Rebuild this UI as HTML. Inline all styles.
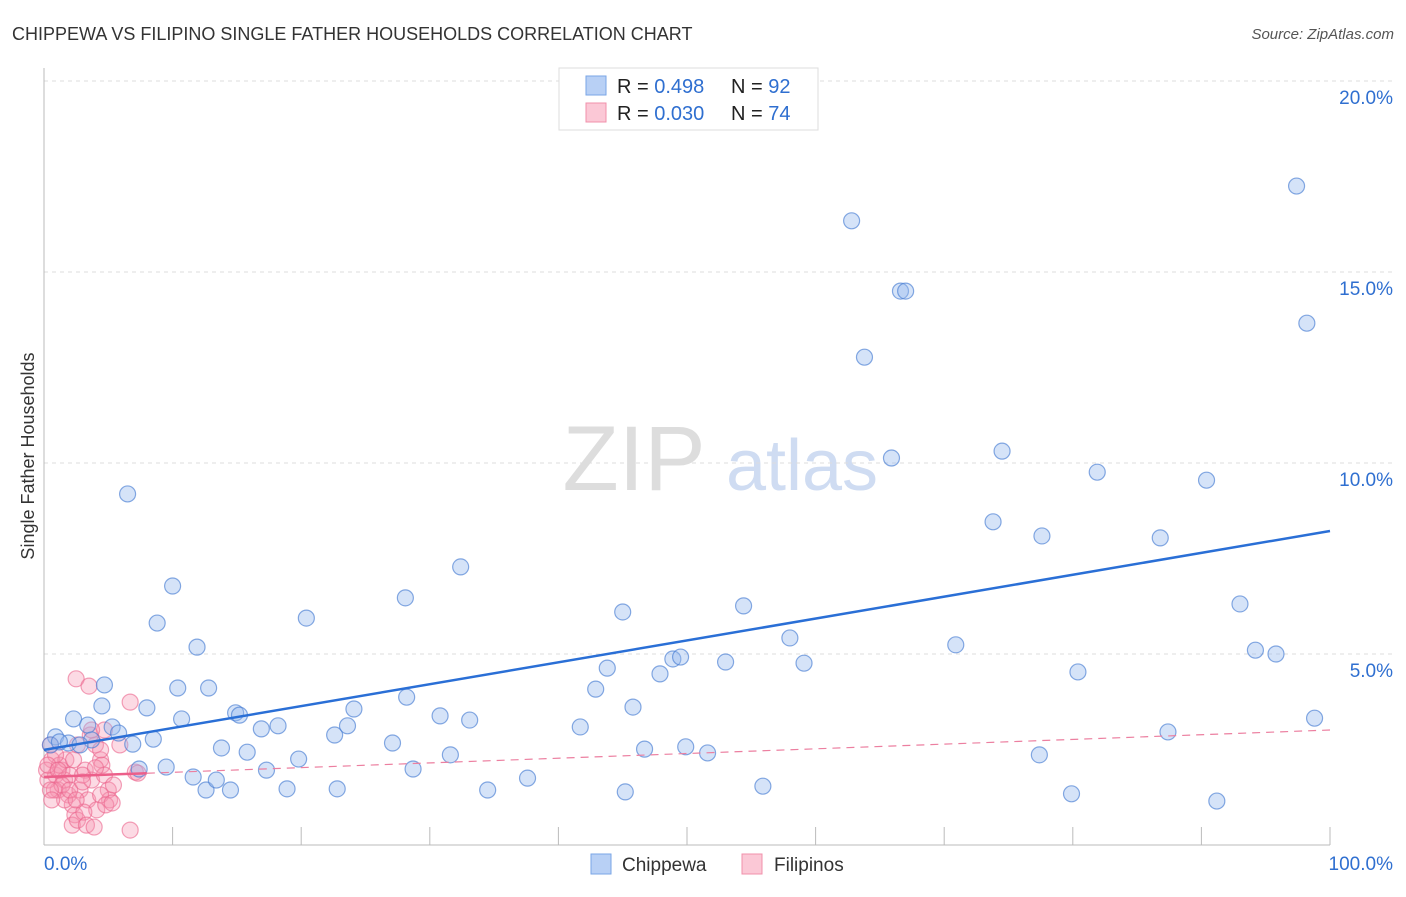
<!DOCTYPE html>
<html><head><meta charset="utf-8"><style>
body{margin:0;background:#fff;font-family:"Liberation Sans",sans-serif;}
svg text{font-family:"Liberation Sans",sans-serif;}
</style></head><body>
<svg id="c" width="1406" height="892" xmlns="http://www.w3.org/2000/svg">
<text x="12" y="40" font-size="18" fill="#333">CHIPPEWA VS FILIPINO SINGLE FATHER HOUSEHOLDS CORRELATION CHART</text>
<text x="1394" y="39" font-size="15" fill="#555" text-anchor="end" font-style="italic">Source: ZipAtlas.com</text>
<text x="634" y="490" font-size="92" fill="#ddd" font-family="Liberation Serif" text-anchor="middle">ZIP</text>
<text x="802" y="490" font-size="72" fill="#cfdcf2" text-anchor="middle">atlas</text>
<text transform="translate(34,456) rotate(-90)" font-size="18" fill="#333" text-anchor="middle">Single Father Households</text>
<g id="grid"></g><g id="pts"></g><g id="lines"></g>
<g>
<rect x="559" y="68" width="259" height="62" fill="#fff" stroke="#ddd"/>
<rect x="586" y="76" width="20" height="19" fill="#b8d0f5" stroke="#7aa6e6"/>
<rect x="586" y="103" width="20" height="19" fill="#fbc8d6" stroke="#f090ab"/>
<text x="617" y="93" font-size="20" fill="#222">R = <tspan fill="#2f6fd0">0.498</tspan></text>
<text x="731" y="93" font-size="20" fill="#222">N = <tspan fill="#2f6fd0">92</tspan></text>
<text x="617" y="120" font-size="20" fill="#222">R = <tspan fill="#2f6fd0">0.030</tspan></text>
<text x="731" y="120" font-size="20" fill="#222">N = <tspan fill="#2f6fd0">74</tspan></text>
</g>
<g>
<rect x="591" y="854" width="20" height="20" fill="#b8d0f5" stroke="#7aa6e6"/>
<text x="622" y="871" font-size="19" fill="#333">Chippewa</text>
<rect x="742" y="854" width="20" height="20" fill="#fbc8d6" stroke="#f090ab"/>
<text x="774" y="871" font-size="19" fill="#333">Filipinos</text>
</g>
</svg>
<script>
const blueX=[6.5,10.0,8.8,11.9,10.4,12.8,10.7,8.0,4.7,4.5,2.3,3.4,0.9,1.9,3.7,5.3,5.8,6.9,8.5,7.4,9.5,11.6,12.6,13.4,14.5,13.8,15.8,14.9,15.2,16.9,18.2,17.3,19.8,18.9,20.4,22.8,22.6,23.6,24.1,27.1,28.2,28.1,28.7,30.8,31.6,32.4,33.1,34.5,37.6,41.7,42.9,43.8,45.0,45.2,45.8,46.7,47.9,48.9,49.5,49.9,51.6,53.0,54.4,55.9,58.0,59.1,62.8,63.8,65.9,66.6,67.0,70.9,73.8,74.5,77.6,77.4,79.9,80.4,81.9,86.8,87.4,90.4,91.2,93.0,94.2,95.8,97.4,98.2,98.8,0.5,1.2,2.8];
const blueY=[9.19,6.78,5.81,5.18,4.11,4.11,3.30,3.59,4.19,3.64,3.30,3.14,2.83,2.67,2.75,3.09,2.93,2.64,2.77,1.99,2.04,1.78,1.44,1.70,1.44,2.54,2.43,3.46,3.40,3.04,3.12,1.96,2.25,1.47,5.94,1.47,2.88,3.12,3.56,2.67,3.87,6.47,1.99,3.38,2.36,7.28,3.27,1.44,1.75,3.09,4.08,4.63,6.10,1.39,3.61,2.51,4.48,4.87,4.92,2.57,2.41,4.79,6.26,1.54,5.42,4.76,16.34,12.77,10.13,14.50,14.50,5.24,8.46,10.31,8.09,2.36,1.34,4.53,9.76,8.04,2.96,9.55,1.15,6.31,5.10,5.00,17.25,13.66,3.32,2.62,2.70,2.62];
const pinkX=[2.5,3.5,6.7,0.5,0.6,0.9,1.1,1.4,1.6,1.9,2.2,2.4,2.8,3.2,3.4,3.7,4.0,4.1,4.4,4.5,4.7,5.0,5.1,5.4,5.9,7.1,6.7,2.2,2.6,3.1,3.3,3.9,1.2,1.7,2.0,0.3,0.8,0.9,1.4,1.6,2.3,2.6,3.0,3.6,4.0,4.4,4.8,5.3,7.3,0.2,0.3,0.5,0.6,1.1,2.0,2.5,3.0,4.4,4.7,3.7];
const pinkY=[4.35,4.16,3.74,2.62,2.23,1.83,1.44,1.96,1.70,1.31,1.05,0.79,1.44,1.96,1.18,1.70,2.62,0.92,2.23,2.09,1.83,1.44,1.18,1.57,2.62,1.91,0.39,0.52,0.65,0.86,0.52,0.47,2.09,2.23,1.83,1.70,1.44,2.36,1.57,1.18,2.23,2.62,1.83,2.88,2.02,1.31,1.05,1.10,1.88,1.96,2.09,1.44,1.18,1.96,1.44,1.18,1.65,2.49,3.01,3.01];
const yTicks=[5,10,15,20];
const yTickLabels=["5.0%","10.0%","15.0%","20.0%"];
const xTicks=[0,10,20,30,40,50,60,70,80,90,100];
const blueTrend=[2.49,8.22];
const pinkTrend=[1.78,3.01];
const NS='http://www.w3.org/2000/svg';
const sx=v=>44+v*12.86, sy=v=>845-v*38.2;
function mk(tag,attrs,parent){const e=document.createElementNS(NS,tag);for(const k in attrs)e.setAttribute(k,attrs[k]);parent.appendChild(e);return e;}
const grid=document.getElementById('grid'),pts=document.getElementById('pts'),lines=document.getElementById('lines');
yTicks.forEach((t,i)=>{
 const l=mk('line',{x1:44,x2:1395,y1:sy(t),y2:sy(t),stroke:'#ddd','stroke-dasharray':'4,4'},grid);
 
 
 const tx=mk('text',{x:1393,y:sy(t)+23,'font-size':19,fill:'#2f6fd0','text-anchor':'end'},grid);
 tx.textContent=yTickLabels[i];
 
 
});
const ax=mk('line',{x1:44,x2:1330,y1:845,y2:845,stroke:'#bbb'},grid);


const ay=mk('line',{x1:44,x2:44,y1:68,y2:845,stroke:'#bbb'},grid);


xTicks.forEach(t=>{
 const l=mk('line',{x1:sx(t),x2:sx(t),y1:827,y2:845,stroke:'#bbb'},grid);
 
 
});
const xl0=mk('text',{x:44,y:870,'font-size':19,fill:'#2f6fd0'},grid);xl0.textContent='0.0%';


const xl1=mk('text',{x:1393,y:870,'font-size':19,fill:'#2f6fd0','text-anchor':'end'},grid);xl1.textContent='100.0%';


pinkX.forEach((x,i)=>{
 const c=mk('circle',{cx:sx(x),cy:sy(pinkY[i]),r:8,fill:'rgba(246,150,178,0.35)',stroke:'rgba(235,100,140,0.6)','stroke-width':1.2},pts);
 
 
});
blueX.forEach((x,i)=>{
 const c=mk('circle',{cx:sx(x),cy:sy(blueY[i]),r:8,fill:'rgba(150,185,238,0.4)',stroke:'rgba(70,125,210,0.65)','stroke-width':1.2},pts);
 
 
});
const bl=mk('line',{x1:sx(0),y1:sy(blueTrend[0]),x2:sx(100),y2:sy(blueTrend[1]),stroke:'#2a6fd6','stroke-width':2.5},lines);


const pv=x=>pinkTrend[0]+(pinkTrend[1]-pinkTrend[0])*x/100;
const ps=mk('line',{x1:sx(0),y1:sy(pv(0)),x2:sx(8),y2:sy(pv(8)),stroke:'#ec5f8a','stroke-width':2.5},lines);


const pd=mk('line',{x1:sx(8),y1:sy(pv(8)),x2:sx(100),y2:sy(pv(100)),stroke:'#ec7fa0','stroke-width':1.2,'stroke-dasharray':'8,6'},lines);


</script>
</body></html>
